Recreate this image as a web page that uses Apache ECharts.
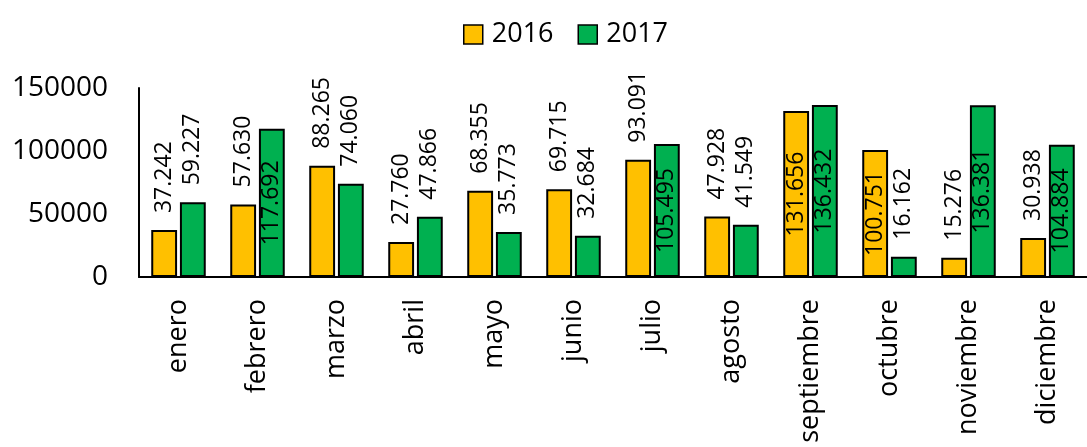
<!DOCTYPE html>
<html>
<head>
<meta charset="utf-8">
<script src="https://cdn.jsdelivr.net/npm/echarts@6/dist/echarts.min.js"></script>
<style>
  html, body { margin: 0; padding: 0; background: #fff; }
  #chart { width: 1087px; height: 447px; }
</style>
</head>
<body>
<div id="chart"></div>
<script>
// meses
var meses = ['enero', 'febrero', 'marzo', 'abril', 'mayo', 'junio', 'julio',
    'agosto', 'septiembre', 'octubre', 'noviembre', 'diciembre'];
var seriesNames = ['2016', '2017'];
var valores2016 = [37242, 57630, 88265, 27760, 68355, 69715, 93091, 47928, 131656, 100751, 15276, 30938];
var valores2017 = [59227, 117692, 74060, 47866, 35773, 32684, 105495, 41549, 136432, 16162, 136381, 104884];
var yTicks = [0, 50000, 100000, 150000];

var FONT = '"Open Sans", "Noto Sans", sans-serif';

// 37242 -> "37.242"
function fmt(v){
    return String(v).replace(/\B(?=(\d{3})+(?!\d))/g, '.');
}

// etiquetas grandes van dentro de la barra, las demas encima
function buildData(arr){
    return arr.map(function(v){
        var inside = v >= 100000;
        return {
            value: v,
            label: inside ? {
                position: 'inside', align: 'center', verticalAlign: 'middle'
            } : {
                position: 'top', align: 'left', verticalAlign: 'middle', distance: 17
            }
        };
    });
}

function barSeries(name, arr, color){
    return {
        name: name,
        type: 'bar',
        data: buildData(arr),
        barGap: '11%',
        barCategoryGap: '31%',
        itemStyle: { color: color, borderColor: '#000', borderWidth: 2 },
        label: {
            show: true,
            rotate: 90,
            color: '#000',
            fontFamily: FONT,
            fontSize: 23,
            formatter: function(p){ return fmt(p.value); }
        }
    };
}

var chart = echarts.init(document.getElementById('chart'));
var option = {
    animation: false,
    legend: {
        data: seriesNames,
        left: 458,
        top: 16,
        itemWidth: 19,
        itemHeight: 19,
        itemGap: 24,
        icon: 'rect',
        itemStyle: { borderColor: '#000', borderWidth: 1.5 },
        textStyle: { fontFamily: FONT, fontSize: 27, color: '#000', padding: [0, 0, 0, 4] }
    },
    grid: { left: 139, right: -11, top: 88, bottom: 170, containLabel: false },
    xAxis: {
        type: 'category',
        data: meses,
        axisLine: { lineStyle: { color: '#000', width: 2 } },
        axisTick: { show: false },
        axisLabel: {
            rotate: 90,
            margin: 22,
            interval: 0,
            color: '#000',
            fontFamily: FONT,
            fontSize: 27
        }
    },
    yAxis: {
        type: 'value',
        min: yTicks[0],
        max: yTicks[yTicks.length - 1],
        interval: yTicks[1] - yTicks[0],
        axisLine: { show: true, lineStyle: { color: '#000', width: 2 } },
        axisTick: { show: false },
        splitLine: { show: false },
        axisLabel: {
            margin: 31,
            color: '#000',
            fontFamily: FONT,
            fontSize: 28,
            formatter: function(v){ return String(v); }
        }
    },
    series: [
        barSeries(seriesNames[0], valores2016, '#FFC000'),
        barSeries(seriesNames[1], valores2017, '#00B050')
    ]
};
chart.setOption(option);
window.addEventListener('resize', function(){ chart.resize(); });
</script>
</body>
</html>
